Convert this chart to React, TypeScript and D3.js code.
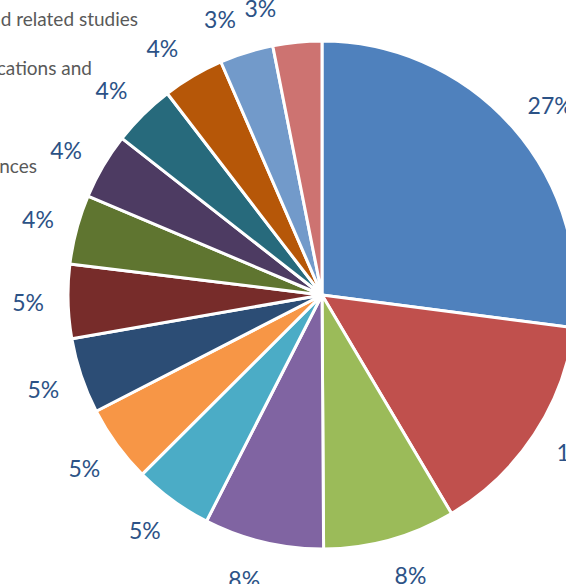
import * as d3 from "d3";
import { useEffect, useRef } from "react";

const width = 566;
const height = 584;
const cx = 322;
const cy = 295;
const radius = 254;
const labelRadius = 294;

// slice values (share of total, %)
const categories = [
  "Medicine and related studies",
  "Society and Culture",
  "Management and Commerce",
  "Education",
  "Engineering and related technologies",
  "Natural and Physical Sciences",
  "Creative Arts",
  "Information Technology",
  "Architecture and Building",
  "Agriculture and Environmental studies",
  "Information, Communications and Media",
  "Food, Hospitality and Personal Services",
  "Mixed Field Programmes",
  "Other"
];
const values = [27.0, 14.4, 8.4, 7.6, 5.0, 4.9, 4.8, 4.7, 4.4, 4.2, 4.0, 3.9, 3.4, 3.1];
const colors = [
  "#4F81BD", "#C0504D", "#9BBB59", "#8064A2", "#4BACC6", "#F79646", "#2C4D75",
  "#772C2A", "#5F7530", "#4D3B62", "#276A7C", "#B65708", "#729ACA", "#CD7371"
];
// label nudges: angle (degrees) and extra radius (px), like the best-fit placement
const labelShift = [1.5, -2, -2, 2, 1, 0, 0, 0, 0, -1, -1, -2.4, -3, -6.5];
const labelPush = [3, 7, 0, 0, 0, 0, 0, 0, 0, 0, 0, 0, 0, 0];

// legend lines that are cut off at the left edge
const legendLines = [
  { text: "Medicine and related studies", endX: 138, y: 18 },
  { text: "Information, Communications and", endX: 92, y: 67 },
  { text: "Media", endX: -20, y: 116 },
  { text: "Natural and Physical Sciences", endX: 37, y: 165 }
];

type Datum = { name: string; value: number; color: string };

export default function App() {
  const svgRef = useRef<SVGSVGElement | null>(null);

  useEffect(() => {
    if (!svgRef.current) return;
    const svg = d3.select(svgRef.current);
    svg.selectAll("*").remove();

    const data: Datum[] = categories.map((name, i) => ({ name, value: values[i], color: colors[i] }));
    const total = d3.sum(values);

    const pie = d3.pie<Datum>().sort(null).value((d) => d.value);
    const arcs = pie(data);
    const arc = d3.arc<d3.PieArcDatum<Datum>>().innerRadius(0).outerRadius(radius);

    const g = svg.append("g").attr("transform", `translate(${cx},${cy})`);

    g.selectAll("path")
      .data(arcs)
      .join("path")
      .attr("d", arc)
      .attr("fill", (d) => d.data.color)
      .attr("stroke", "#fff")
      .attr("stroke-width", 3)
      .attr("stroke-linejoin", "round");

    const pos = (d: d3.PieArcDatum<Datum>, i: number) => {
      const a = (d.startAngle + d.endAngle) / 2 + (labelShift[i] * Math.PI) / 180;
      const r = labelRadius + labelPush[i];
      return [r * Math.sin(a), -r * Math.cos(a)];
    };

    g.selectAll("text.pct")
      .data(arcs)
      .join("text")
      .attr("class", "pct")
      .attr("x", (d, i) => pos(d, i)[0])
      .attr("y", (d, i) => pos(d, i)[1])
      .attr("text-anchor", "middle")
      .attr("dominant-baseline", "central")
      .attr("font-family", "Lato, 'Open Sans', sans-serif")
      .attr("font-size", 23)
      .attr("fill", "#2C5286")
      .text((d) => `${Math.round((d.data.value / total) * 100)}%`);

    svg
      .append("g")
      .selectAll("text")
      .data(legendLines)
      .join("text")
      .attr("x", (d) => d.endX)
      .attr("y", (d) => d.y)
      .attr("text-anchor", "end")
      .attr("dominant-baseline", "central")
      .attr("font-family", "Lato, 'Open Sans', sans-serif")
      .attr("font-size", 19)
      .attr("fill", "#595959")
      .text((d) => d.text);
  }, []);

  return (
    <svg
      ref={svgRef}
      width={width}
      height={height}
      viewBox={`0 0 ${width} ${height}`}
      style={{ position: "absolute", left: 0, top: 0, background: "#fff" }}
    />
  );
}
